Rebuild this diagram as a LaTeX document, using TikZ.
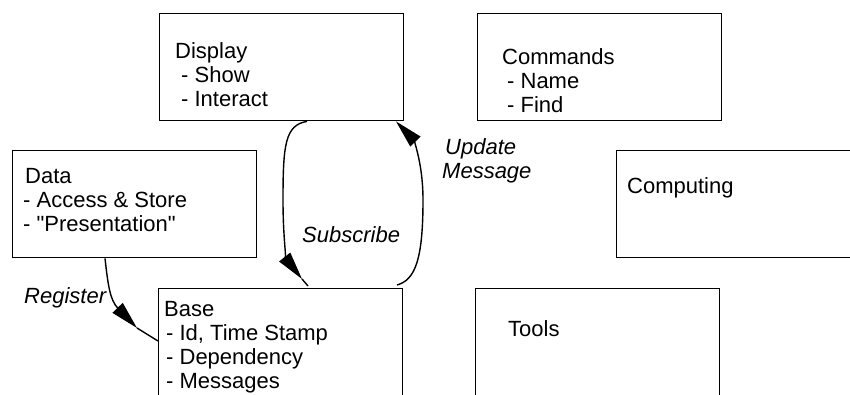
\documentclass[tikz,border=0pt]{standalone}
\usepackage{fontspec}
\setmainfont{Liberation Sans}
\usetikzlibrary{arrows.meta,calc}
\begin{document}
\begin{tikzpicture}[x=1pt,y=-1pt,
  box/.style={draw,line width=1.4pt,minimum width=244pt,minimum height=107pt,anchor=north west,inner sep=0pt},
  txt/.style={anchor=north west,inner sep=0pt,align=left,font=\fontsize{22}{24}\selectfont},
  lbl/.style={anchor=north west,inner sep=0pt,align=left,font=\fontsize{22}{24.5}\selectfont\itshape},
  conn/.style={line width=1.4pt},
  tip/.style={-{Triangle[length=28pt,width=14pt]}}]
\useasboundingbox (0,0) rectangle (850,394);
\clip (0,0) rectangle (850,394);
% boxes
\node[box] (display) at (159,13) {};
\node[box] (commands) at (477,13) {};
\node[box] (data) at (12,150) {};
\node[box] (computing) at (616,150) {};
\node[box,minimum height=140pt] (base) at (158,288) {};
\node[box,minimum height=140pt] (tools) at (475,288) {};
% texts
\node[txt] (displaytxt) at (175,42) {Display\\\hspace{6pt}- Show\\\hspace{6pt}- Interact};
\node[txt] (commandstxt) at (502,48) {Commands\\\hspace{5pt}- Name\\\hspace{5pt}- Find};
\node[txt] (datatxt) at (25,168) {Data\\\hspace{-2pt}- Access \& Store\\\hspace{-2pt}- \textquotedbl Presentation\textquotedbl};
\node[txt] (computingtxt) at (627,177) {Computing};
\node[txt] (basetxt) at (164,301) {Base\\\hspace{2pt}- Id, Time Stamp\\\hspace{2pt}- Dependency\\\hspace{2pt}- Messages};
\node[txt] (toolstxt) at (508,320) {Tools};
% labels
\node[lbl] (update) at (442,138) {\hspace{3pt}Update\\Message};
\node[lbl] (subscribe) at (302,226) {Subscribe};
\node[lbl] (register) at (24,287) {Register};
% connectors
\coordinate (subtip) at (302,279);
\draw[conn,tip] ($(display.south west)+(148,0)$) .. controls (285,125) and (283,145) .. (283,200)
  .. controls (283,240) and (287,260) .. (subtip);
\draw[conn] (subtip) -- ($(base.north west)+(150,-2)$);
\draw[conn,tip] ($(base.north west)+(239,-3)$) .. controls (415,280) and (423,260) .. (423,200)
  .. controls (423,160) and (412,138) .. ($(display.south west)+(237,0)$);
\coordinate (regtip) at (137,328);
\draw[conn,tip] ($(data.south west)+(93,0)$) .. controls (108,285) and (110,300) .. (regtip);
\draw[conn] (regtip) -- ($(base.north west)+(0,53)$);
\end{tikzpicture}
\end{document}
